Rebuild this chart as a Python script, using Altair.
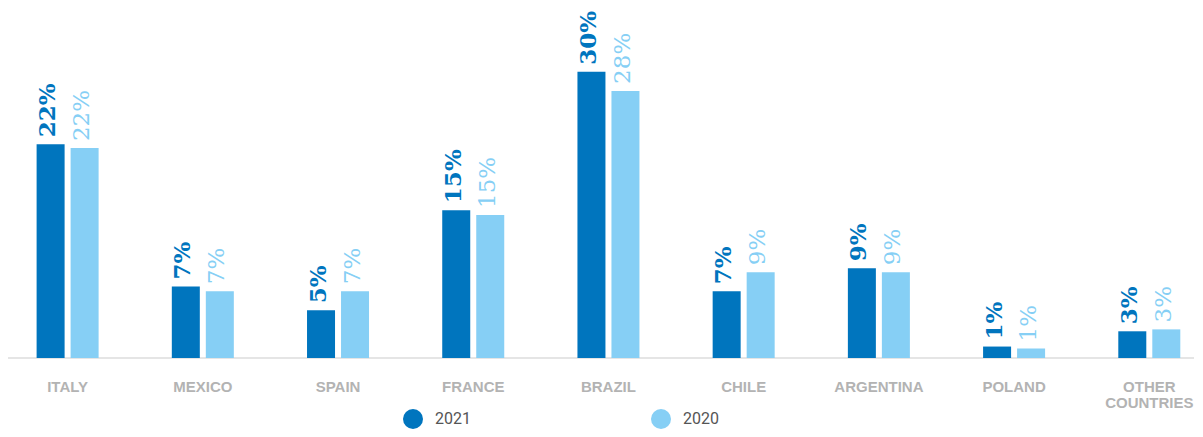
import altair as alt
import pandas as pd

countries = ["ITALY", "MEXICO", "SPAIN", "FRANCE", "BRAZIL", "CHILE", "ARGENTINA", "POLAND", "OTHER COUNTRIES"]
series = ["2021", "2020"]
values_2021 = [22.4, 7.5, 5.0, 15.5, 30.0, 7.0, 9.4, 1.2, 2.8]
values_2020 = [22.0, 7.0, 7.0, 15.0, 28.0, 9.0, 9.0, 1.0, 3.0]
labels_2021 = ["22%", "7%", "5%", "15%", "30%", "7%", "9%", "1%", "3%"]
labels_2020 = ["22%", "7%", "7%", "15%", "28%", "9%", "9%", "1%", "3%"]

rows = []
for i, c in enumerate(countries):
    rows.append({"country": c, "year": "2021", "value": values_2021[i], "label": labels_2021[i]})
    rows.append({"country": c, "year": "2020", "value": values_2020[i], "label": labels_2020[i]})
df = pd.DataFrame(rows)

DARK = "#0075BE"
LIGHT = "#86CFF5"
W, H = 1195, 358
YMAX = 358 / 9.54
PI = 0.5414
PO = 0.1897
ALIGN = 0.7135

x = alt.X(
    "country:N",
    sort=countries,
    scale=alt.Scale(paddingInner=PI, paddingOuter=PO, align=ALIGN),
    axis=alt.Axis(
        title=None, domain=False, ticks=False, tickSize=0, labelAngle=0,
        labelFont="Liberation Sans", labelFontWeight="bold", labelFontSize=15,
        labelColor="#B3B3B3", labelPadding=21, labelLineHeight=16,
        labelExpr="datum.label == 'OTHER COUNTRIES' ? ['OTHER', 'COUNTRIES'] : datum.label",
    ),
)
xo = alt.XOffset(
    "year:N",
    sort=series,
    scale=alt.Scale(domain=series, paddingInner=6 / 34, paddingOuter=0),
)
y = alt.Y("value:Q", scale=alt.Scale(domain=[0, YMAX], nice=False, zero=True), axis=None)
color = alt.Color(
    "year:N",
    sort=series,
    scale=alt.Scale(domain=series, range=[DARK, LIGHT]),
    legend=alt.Legend(
        title=None, orient="none", legendX=403, legendY=409, direction="horizontal",
        symbolType="circle", symbolSize=400, symbolStrokeWidth=0, symbolOpacity=1,
        labelFont="Roboto", labelFontSize=16, labelColor="#555555", labelOffset=12,
        columnPadding=180, padding=0,
    ),
)

base = alt.Chart(df)

axis_line = alt.Chart(pd.DataFrame({"v": [0]})).mark_rule(color="#DCDCDC", strokeWidth=1.5).encode(
    y=alt.Y("v:Q", scale=alt.Scale(domain=[0, YMAX], nice=False), axis=None),
    x=alt.value(8),
    x2=alt.value(W - 1),
)

bars = base.mark_bar().encode(x=x, xOffset=xo, y=y, color=color)

text_common = dict(angle=270, align="left", baseline="alphabetic", dx=7, dy=4.5, font="DejaVu Serif", fontSize=23)
tcolor = alt.Color("year:N", scale=alt.Scale(domain=series, range=[DARK, LIGHT]), legend=None)
text_dark = base.transform_filter(alt.datum.year == "2021").mark_text(fontWeight="bold", **text_common).encode(
    x=x, xOffset=xo, y=y, text="label:N", color=tcolor
)
text_light = base.transform_filter(alt.datum.year == "2020").mark_text(fontWeight="normal", **text_common).encode(
    x=x, xOffset=xo, y=y, text="label:N", color=tcolor
)

chart = alt.layer(axis_line, bars, text_dark, text_light).properties(
    width=W, height=H, padding={"left": -8, "top": -8, "right": 0, "bottom": 0}
).configure_view(stroke=None)

chart.save("out.html", embed_options={"renderer": "svg", "actions": False})
